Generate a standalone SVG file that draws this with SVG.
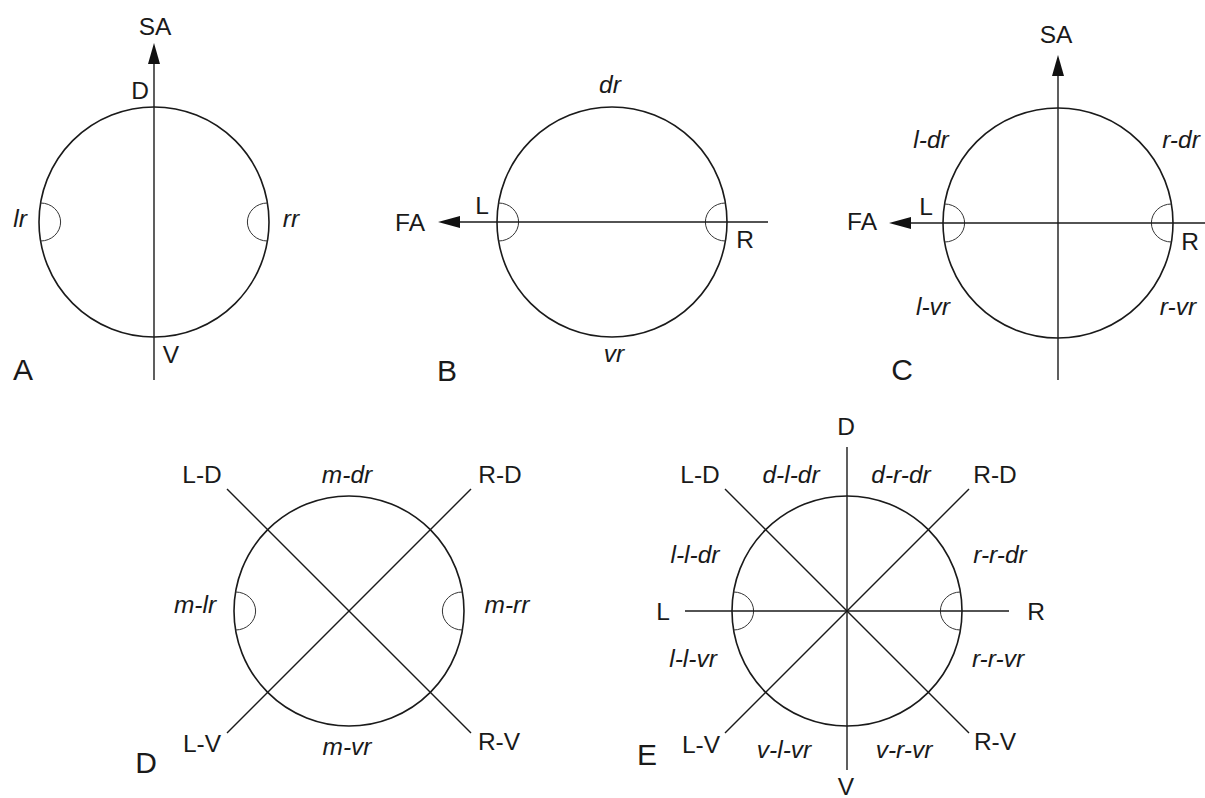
<svg xmlns="http://www.w3.org/2000/svg" width="1205" height="798" viewBox="0 0 1205 798">
<style>
.c{fill:none;stroke:#1a1a1a;stroke-width:1.6}
.l{fill:none;stroke:#1a1a1a;stroke-width:1.4}
.n{fill:none;stroke:#333;stroke-width:1}
.ah{fill:#111}
text{font-family:"Liberation Sans",Arial,sans-serif;font-size:24.5px;fill:#1a1a1a;text-anchor:middle}
.i{font-style:italic}
.p{font-size:30px}
</style>
<rect width="1205" height="798" fill="#fff"/>

<g id="panelA">
<circle class="c" cx="154" cy="222" r="115"/>
<path class="n" d="M40.6 203 A20 19 0 0 1 40.6 241"/>
<path class="n" d="M267.4 203 A20 19 0 0 0 267.4 241"/>
<text x="155" y="35">SA</text>
<text x="140" y="99">D</text>
<text x="171" y="363">V</text>
<text class="i" x="20" y="227">lr</text>
<text class="i" x="291" y="227">rr</text>
<text class="p" x="23" y="380">A</text>
</g>

<g id="panelB">
<circle class="c" cx="612" cy="222" r="115"/>
<path class="n" d="M498.6 203 A20 19 0 0 1 498.6 241"/>
<path class="n" d="M725.4 203 A20 19 0 0 0 725.4 241"/>
<text x="410" y="231">FA</text>
<text x="482" y="214">L</text>
<text x="745" y="248">R</text>
<text class="i" x="610" y="93">dr</text>
<text class="i" x="614" y="362">vr</text>
<text class="p" x="447" y="381">B</text>
</g>

<g id="panelC">
<circle class="c" cx="1058" cy="223" r="115"/>
<path class="n" d="M944.6 204 A20 19 0 0 1 944.6 242"/>
<path class="n" d="M1171.4 204 A20 19 0 0 0 1171.4 242"/>
<text x="1056" y="43">SA</text>
<text x="862" y="230">FA</text>
<text x="926" y="215">L</text>
<text x="1190" y="250">R</text>
<text class="i" x="931" y="148">l-dr</text>
<text class="i" x="1181" y="148">r-dr</text>
<text class="i" x="933" y="315">l-vr</text>
<text class="i" x="1178" y="315">r-vr</text>
<text class="p" x="902" y="380">C</text>
</g>

<g id="panelD">
<circle class="c" cx="349" cy="611" r="115"/>
<path class="n" d="M235.6 592 A20 19 0 0 1 235.6 630"/>
<path class="n" d="M462.4 592 A20 19 0 0 0 462.4 630"/>
<text x="202" y="483">L-D</text>
<text class="i" x="347" y="483">m-dr</text>
<text x="500" y="483">R-D</text>
<text class="i" x="195" y="613">m-lr</text>
<text class="i" x="507" y="613">m-rr</text>
<text x="202" y="752">L-V</text>
<text class="i" x="347" y="755">m-vr</text>
<text x="499" y="750">R-V</text>
<text class="p" x="146" y="773">D</text>
</g>

<g id="panelE">
<circle class="c" cx="847" cy="611" r="115"/>
<path class="n" d="M733.6 592 A20 19 0 0 1 733.6 630"/>
<path class="n" d="M960.4 592 A20 19 0 0 0 960.4 630"/>
<text x="846" y="435">D</text>
<text x="700" y="483">L-D</text>
<text class="i" x="791" y="483">d-l-dr</text>
<text class="i" x="901" y="483">d-r-dr</text>
<text x="995" y="483">R-D</text>
<text class="i" x="695" y="563">l-l-dr</text>
<text class="i" x="1000" y="563">r-r-dr</text>
<text x="663" y="620">L</text>
<text x="1036" y="620">R</text>
<text class="i" x="693" y="667">l-l-vr</text>
<text class="i" x="998" y="667">r-r-vr</text>
<text x="701" y="753">L-V</text>
<text class="i" x="784" y="758">v-l-vr</text>
<text class="i" x="904" y="758">v-r-vr</text>
<text x="995" y="750">R-V</text>
<text x="846" y="795">V</text>
<text class="p" x="647" y="765">E</text>
</g>

<g id="connectors">
<line class="l" x1="154" y1="380" x2="154" y2="60"/>
<polygon class="ah" points="154,43 148,64 160,64"/>
<line class="l" x1="768" y1="222" x2="456" y2="222"/>
<polygon class="ah" points="438,222 460,216 460,228"/>
<line class="l" x1="1058" y1="380" x2="1058" y2="72"/>
<polygon class="ah" points="1058,55 1052,76 1064,76"/>
<line class="l" x1="1205" y1="223" x2="907" y2="223"/>
<polygon class="ah" points="889,223 911,217 911,229"/>
<line class="l" x1="227" y1="489" x2="471" y2="733"/>
<line class="l" x1="471" y1="489" x2="227" y2="733"/>
<line class="l" x1="847" y1="447" x2="847" y2="770"/>
<line class="l" x1="685" y1="611" x2="1009" y2="611"/>
<line class="l" x1="725" y1="489" x2="969" y2="733"/>
<line class="l" x1="969" y1="489" x2="725" y2="733"/>
</g>
</svg>
